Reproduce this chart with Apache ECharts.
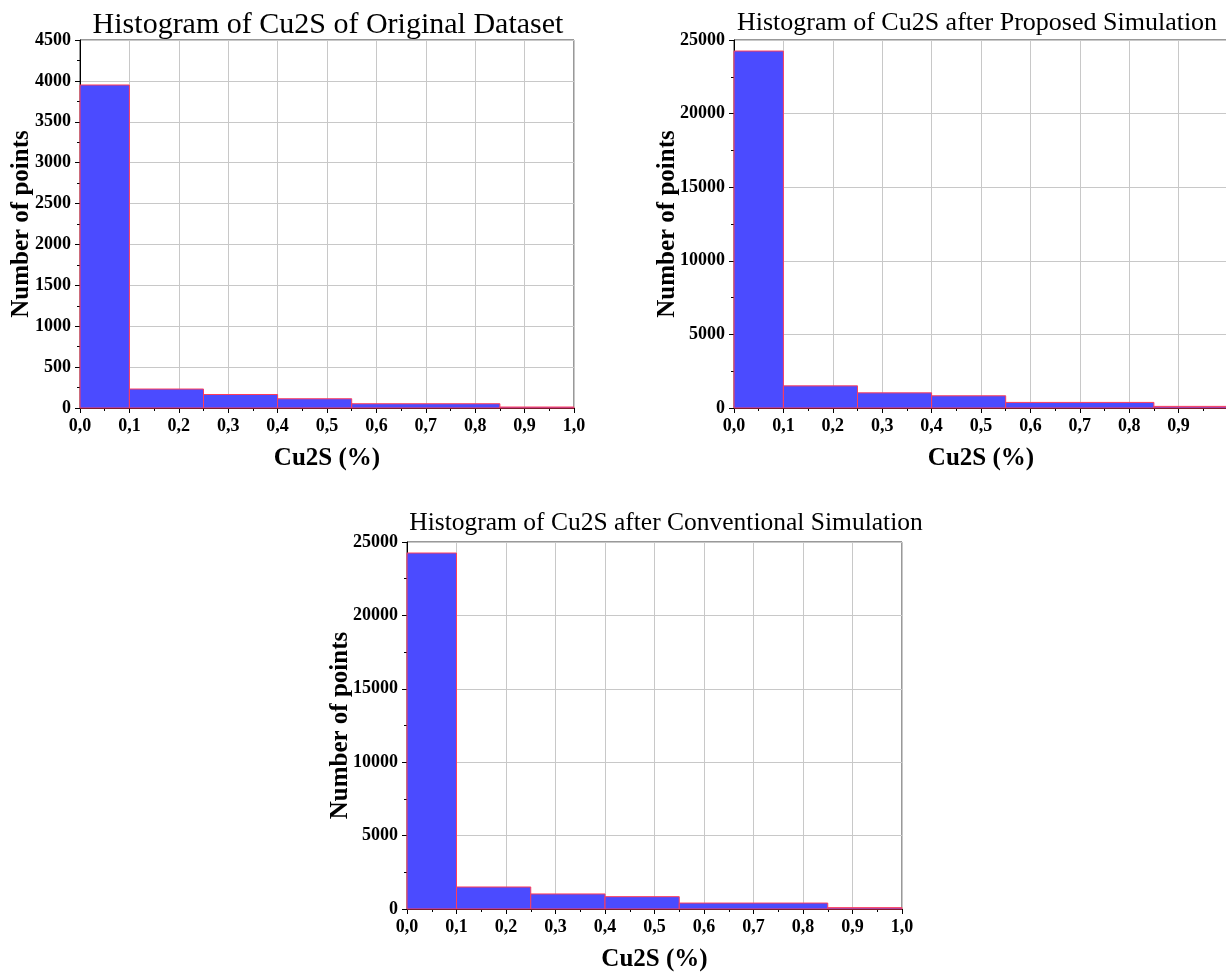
<!DOCTYPE html>
<html>
<head>
<meta charset="utf-8">
<script src="https://cdn.jsdelivr.net/npm/echarts@6/dist/echarts.min.js"></script>
<style>
  html, body { margin: 0; padding: 0; background: #fff; }
  #chart { width: 1226px; height: 975px; }
</style>
</head>
<body>
<div id="chart"></div>
<script>
// Histogram bin edges (Cu2S, %)
const binEdges = [0.0, 0.1, 0.25, 0.4, 0.55, 0.85, 1.0];

// Counts per bin
const originalCounts     = [3950, 232, 165, 113, 52, 12];
const proposedCounts     = [24250, 1505, 1030, 830, 380, 110];
const conventionalCounts = [24250, 1500, 1025, 840, 405, 92];

const titles = [
  'Histogram of Cu2S of Original Dataset',
  'Histogram of Cu2S after Proposed Simulation',
  'Histogram of Cu2S after Conventional Simulation'
];

const serif = '"Liberation Serif", "Times New Roman", serif';
const FILL = '#4b4bff';
const EDGE = '#ff3c5a';

function binData(counts) {
  return counts.map((c, i) => [binEdges[i], binEdges[i + 1], c]);
}

function renderBin(params, api) {
  const lo = api.value(0), hi = api.value(1), v = api.value(2);
  const p0 = api.coord([lo, v]);
  const p1 = api.coord([hi, 0]);
  return {
    type: 'rect',
    shape: { x: p0[0], y: p0[1], width: p1[0] - p0[0], height: p1[1] - p0[1] },
    style: { fill: FILL, stroke: EDGE, lineWidth: 1 }
  };
}

const grids = [
  { left: 80, top: 40, width: 494, height: 368 },
  { left: 734, top: 40, width: 494, height: 368 },
  { left: 407, top: 542, width: 495, height: 367 }
];
const yConf = [
  { max: 4500, interval: 500, nameGap: 46 },
  { max: 25000, interval: 5000, nameGap: 54 },
  { max: 25000, interval: 5000, nameGap: 54 }
];
// the second panel runs past the right edge, so its last tick label is not shown
const showLastXLabel = [true, false, true];
const datasets = [originalCounts, proposedCounts, conventionalCounts];

const option = {
  animation: false,
  backgroundColor: '#fff',
  title: [
    { text: titles[0], left: 323, top: 5, textAlign: 'center',
      textStyle: { fontFamily: serif, fontWeight: 'normal', fontSize: 30, color: '#000' } },
    { text: titles[1], left: 972, top: 5, textAlign: 'center',
      textStyle: { fontFamily: serif, fontWeight: 'normal', fontSize: 26, color: '#000' } },
    { text: titles[2], left: 661, top: 505, textAlign: 'center',
      textStyle: { fontFamily: serif, fontWeight: 'normal', fontSize: 25.5, color: '#000' } }
  ],
  grid: grids.map(g => Object.assign({
    show: true, borderColor: '#333', borderWidth: 1, backgroundColor: 'transparent',
    containLabel: false, outerBoundsMode: 'none'
  }, g)),
  xAxis: grids.map((g, i) => ({
    type: 'value', gridIndex: i, min: 0, max: 1, interval: 0.1,
    name: 'Cu2S (%)', nameLocation: 'middle', nameGap: 38, nameMoveOverlap: false,
    nameTextStyle: { fontFamily: serif, fontWeight: 'bold', fontSize: 25, color: '#000' },
    axisLine: { show: true, lineStyle: { color: '#000', width: 1 } },
    axisTick: { show: true, length: 5, lineStyle: { color: '#000' } },
    minorTick: { show: true, splitNumber: 2, length: 3, lineStyle: { color: '#000' } },
    splitLine: { show: true, lineStyle: { color: '#c8c8c8', width: 1 } },
    axisLabel: {
      fontFamily: serif, fontWeight: 'bold', fontSize: 18, color: '#000', margin: 9,
      showMaxLabel: showLastXLabel[i],
      formatter: v => v.toFixed(1).replace('.', ',')
    }
  })),
  yAxis: grids.map((g, i) => ({
    type: 'value', gridIndex: i, min: 0, max: yConf[i].max, interval: yConf[i].interval,
    name: 'Number of points', nameLocation: 'middle', nameGap: yConf[i].nameGap,
    nameMoveOverlap: false,
    nameTextStyle: { fontFamily: serif, fontWeight: 'bold', fontSize: 25, color: '#000' },
    axisLine: { show: true, lineStyle: { color: '#000', width: 1 } },
    axisTick: { show: true, length: 5, lineStyle: { color: '#000' } },
    minorTick: { show: true, splitNumber: 2, length: 3, lineStyle: { color: '#000' } },
    splitLine: { show: true, lineStyle: { color: '#c8c8c8', width: 1 } },
    axisLabel: {
      fontFamily: serif, fontWeight: 'bold', fontSize: 18, color: '#000', margin: 9,
      formatter: v => String(v)
    }
  })),
  series: datasets.map((counts, i) => ({
    type: 'custom',
    xAxisIndex: i, yAxisIndex: i,
    renderItem: renderBin,
    encode: { x: [0, 1], y: 2 },
    data: binData(counts)
  }))
};

const chart = echarts.init(document.getElementById('chart'), null, { renderer: 'canvas' });
chart.setOption(option);
</script>
</body>
</html>
